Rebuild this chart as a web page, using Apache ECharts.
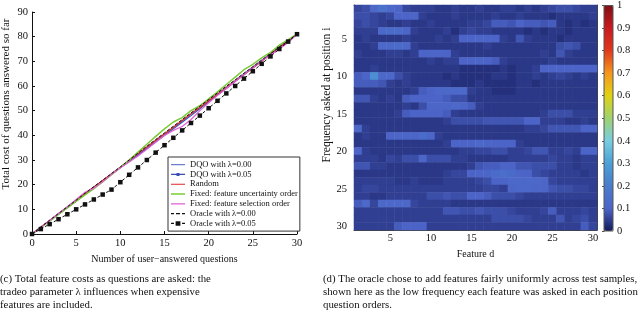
<!DOCTYPE html>
<html>
<head>
<meta charset="utf-8">
<script src="https://cdn.jsdelivr.net/npm/echarts@6/dist/echarts.min.js"></script>
<style>html,body{margin:0;padding:0;background:#fff}#c{width:640px;height:321px}</style>
</head>
<body>
<div id="c"></div>
<script>
// ---------- Left chart data ----------
const questionsX = [0,1,2,3,4,5,6,7,8,9,10,11,12,13,14,15,16,17,18,19,20,21,22,23,24,25,26,27,28,29,30];
const dqo000 = [0,2.7,5.4,8.1,10.9,13.6,16.3,19,21.6,24.3,27,29.6,32.3,35,37.7,40.4,43.1,45.8,48.6,51.4,54.1,56.8,59.5,62.2,65,67.7,70.4,73.1,75.8,78.4,81];
const dqo005 = [0,2.6,5.3,8,10.6,13.3,16,18.7,21.4,24.1,26.8,29.4,32,34.6,37.3,40,42.6,45.3,48,50.8,53.6,56.3,59,61.8,64.6,67.4,70.1,72.9,75.7,78.4,81];
const randomOrder = [0,2.8,5.5,8.2,10.9,13.6,16.3,19,21.7,24.4,27.1,29.9,32.6,35.3,38,40.6,43.3,46,48.7,51.3,54,56.6,59.3,62,64.6,67.3,70,72.8,75.6,78.3,81];
const fixedUncertainty = [0,2.6,5.2,7.9,10.6,13.3,15.9,18.4,21.1,24.1,27,30,33.2,36.4,39.6,42.6,45.4,47.2,50,52,54.8,57.6,60.6,63.6,66.6,68.8,71.4,73.6,76.6,78.8,81];
const fixedSelection = [0,2.7,5.5,8.3,11.1,14,16.9,18.6,21.2,24.2,26.9,29.2,31.6,34.3,37.2,39.9,42,43.6,46.4,50,53.2,56.2,59,61.8,64.6,67.5,70.2,72.6,75,77.6,81];
const oracle000 = [0,2.8,5.6,8.3,11,13.7,16.5,19.2,21.8,24.5,27.2,30,32.8,35.6,38.3,41,43.7,46.4,49.1,51.8,54.5,57.2,59.9,62.5,65.2,67.8,70.5,73.1,75.8,78.4,81];
const oracle005 = [0,2,4,6,8,10,12,14,16,18,21,24,27,30,33,36,39,42,45,48,51,54,57,60,63,66,69,72,75,78,81];
const seriesNames = ['DQO with λ=0.00','DQO with λ=0.05','Random','Fixed: feature uncertainty order','Fixed: feature selection order','Oracle with λ=0.00','Oracle with λ=0.05'];

// ---------- Right chart data ----------
const featureLabels = ['1','2','3','4','5','6','7','8','9','10','11','12','13','14','15','16','17','18','19','20','21','22','23','24','25','26','27','28','29','30'];
const positionLabels = ['1','2','3','4','5','6','7','8','9','10','11','12','13','14','15','16','17','18','19','20','21','22','23','24','25','26','27','28','29','30'];
const colorbarTicks = [0,0.1,0.2,0.3,0.4,0.5,0.6,0.7,0.8,0.9,1];
const heatRows = [
[0.06,0.07,0.12,0.16,0.12,0.10,0.06,0.05,0.05,0.05,0.04,0.04,0.05,0.04,0.04,0.05,0.04,0.04,0.05,0.05,0.04,0.05,0.04,0.05,0.06,0.07,0.07,0.06,0.05,0.05],
[0.07,0.07,0.06,0.05,0.06,0.10,0.10,0.11,0.05,0.04,0.04,0.04,0.05,0.04,0.04,0.04,0.04,0.05,0.04,0.04,0.05,0.04,0.04,0.04,0.03,0.04,0.04,0.04,0.04,0.05],
[0.06,0.07,0.06,0.05,0.04,0.04,0.05,0.04,0.04,0.05,0.04,0.04,0.04,0.04,0.05,0.05,0.06,0.09,0.09,0.08,0.10,0.09,0.09,0.08,0.09,0.04,0.03,0.04,0.03,0.04],
[0.05,0.05,0.05,0.12,0.13,0.13,0.11,0.05,0.04,0.04,0.04,0.05,0.03,0.05,0.06,0.05,0.05,0.04,0.04,0.04,0.04,0.03,0.04,0.03,0.04,0.04,0.03,0.04,0.04,0.04],
[0.04,0.05,0.04,0.04,0.04,0.04,0.05,0.04,0.04,0.04,0.05,0.04,0.05,0.10,0.10,0.11,0.10,0.10,0.05,0.04,0.08,0.05,0.04,0.04,0.04,0.03,0.04,0.04,0.04,0.04],
[0.04,0.04,0.05,0.12,0.12,0.13,0.12,0.05,0.04,0.04,0.04,0.04,0.04,0.04,0.04,0.04,0.05,0.04,0.04,0.04,0.04,0.04,0.04,0.04,0.04,0.07,0.08,0.07,0.04,0.04],
[0.05,0.04,0.04,0.04,0.05,0.05,0.04,0.05,0.10,0.11,0.11,0.10,0.05,0.04,0.04,0.04,0.04,0.04,0.04,0.04,0.04,0.04,0.04,0.05,0.04,0.08,0.05,0.04,0.04,0.04],
[0.04,0.04,0.04,0.04,0.04,0.04,0.04,0.04,0.04,0.05,0.04,0.05,0.05,0.10,0.10,0.11,0.10,0.09,0.05,0.04,0.04,0.04,0.04,0.04,0.05,0.04,0.04,0.04,0.04,0.04],
[0.04,0.04,0.05,0.04,0.04,0.04,0.04,0.04,0.04,0.04,0.04,0.04,0.04,0.03,0.03,0.03,0.03,0.03,0.04,0.03,0.04,0.04,0.05,0.10,0.10,0.10,0.10,0.10,0.10,0.10],
[0.09,0.10,0.25,0.12,0.12,0.07,0.05,0.04,0.04,0.04,0.04,0.03,0.04,0.03,0.03,0.03,0.03,0.04,0.04,0.03,0.04,0.04,0.05,0.04,0.05,0.06,0.05,0.04,0.05,0.04],
[0.09,0.09,0.09,0.08,0.05,0.04,0.05,0.04,0.04,0.04,0.04,0.04,0.03,0.03,0.03,0.04,0.03,0.03,0.03,0.03,0.04,0.04,0.03,0.04,0.04,0.04,0.04,0.04,0.04,0.04],
[0.04,0.04,0.04,0.04,0.04,0.04,0.04,0.05,0.09,0.10,0.12,0.12,0.12,0.12,0.05,0.04,0.04,0.03,0.03,0.03,0.04,0.04,0.04,0.04,0.04,0.04,0.04,0.04,0.04,0.04],
[0.08,0.08,0.05,0.04,0.05,0.04,0.09,0.10,0.10,0.10,0.10,0.09,0.07,0.07,0.04,0.04,0.04,0.04,0.04,0.04,0.04,0.04,0.04,0.04,0.04,0.04,0.04,0.04,0.04,0.04],
[0.04,0.04,0.04,0.04,0.04,0.04,0.05,0.04,0.07,0.11,0.11,0.11,0.12,0.11,0.09,0.05,0.04,0.04,0.04,0.04,0.04,0.04,0.04,0.04,0.04,0.04,0.04,0.04,0.04,0.04],
[0.04,0.04,0.04,0.04,0.04,0.05,0.09,0.10,0.10,0.10,0.10,0.09,0.05,0.04,0.04,0.04,0.04,0.04,0.04,0.04,0.04,0.04,0.04,0.05,0.07,0.07,0.07,0.05,0.05,0.05],
[0.04,0.04,0.04,0.04,0.04,0.04,0.04,0.04,0.04,0.04,0.04,0.05,0.07,0.07,0.07,0.07,0.08,0.08,0.08,0.08,0.08,0.10,0.10,0.05,0.05,0.05,0.04,0.04,0.05,0.04],
[0.12,0.05,0.04,0.04,0.04,0.04,0.04,0.04,0.04,0.04,0.04,0.04,0.04,0.04,0.04,0.04,0.04,0.04,0.04,0.04,0.04,0.05,0.05,0.06,0.08,0.08,0.08,0.08,0.10,0.10],
[0.04,0.05,0.04,0.04,0.10,0.11,0.11,0.11,0.13,0.11,0.05,0.04,0.04,0.04,0.04,0.04,0.04,0.04,0.04,0.04,0.04,0.04,0.04,0.04,0.04,0.04,0.04,0.04,0.04,0.04],
[0.04,0.04,0.04,0.04,0.04,0.04,0.04,0.04,0.04,0.04,0.04,0.05,0.10,0.10,0.10,0.12,0.11,0.10,0.10,0.10,0.05,0.04,0.04,0.04,0.04,0.04,0.04,0.04,0.04,0.04],
[0.10,0.05,0.04,0.04,0.04,0.04,0.04,0.04,0.04,0.04,0.04,0.04,0.04,0.05,0.05,0.06,0.06,0.07,0.07,0.05,0.05,0.06,0.08,0.08,0.05,0.05,0.06,0.05,0.10,0.10],
[0.05,0.05,0.05,0.04,0.06,0.05,0.07,0.07,0.11,0.07,0.07,0.07,0.05,0.05,0.04,0.04,0.04,0.04,0.04,0.05,0.05,0.05,0.05,0.05,0.06,0.05,0.05,0.04,0.05,0.05],
[0.08,0.08,0.05,0.05,0.04,0.04,0.04,0.04,0.04,0.04,0.04,0.04,0.04,0.04,0.05,0.08,0.09,0.09,0.10,0.10,0.08,0.08,0.07,0.07,0.07,0.05,0.05,0.04,0.05,0.05],
[0.04,0.04,0.04,0.04,0.04,0.04,0.04,0.04,0.04,0.04,0.04,0.05,0.06,0.06,0.10,0.11,0.11,0.13,0.14,0.13,0.11,0.10,0.07,0.06,0.05,0.05,0.05,0.05,0.04,0.05],
[0.05,0.05,0.05,0.05,0.05,0.04,0.04,0.05,0.04,0.04,0.04,0.05,0.05,0.05,0.05,0.06,0.07,0.10,0.10,0.12,0.12,0.12,0.12,0.11,0.06,0.05,0.05,0.05,0.05,0.05],
[0.05,0.06,0.06,0.05,0.05,0.05,0.05,0.05,0.05,0.05,0.05,0.05,0.05,0.05,0.05,0.05,0.06,0.06,0.05,0.11,0.12,0.12,0.11,0.11,0.08,0.07,0.07,0.06,0.06,0.05],
[0.05,0.05,0.04,0.04,0.05,0.05,0.05,0.05,0.05,0.07,0.07,0.08,0.07,0.07,0.10,0.10,0.09,0.07,0.07,0.07,0.06,0.05,0.05,0.05,0.05,0.05,0.05,0.05,0.05,0.05],
[0.09,0.12,0.06,0.12,0.12,0.12,0.12,0.06,0.05,0.05,0.05,0.05,0.04,0.04,0.04,0.04,0.04,0.04,0.04,0.04,0.04,0.04,0.04,0.04,0.04,0.04,0.04,0.04,0.04,0.04],
[0.05,0.05,0.05,0.05,0.05,0.05,0.05,0.05,0.05,0.05,0.05,0.08,0.08,0.07,0.07,0.08,0.07,0.07,0.07,0.06,0.05,0.05,0.05,0.06,0.09,0.05,0.05,0.05,0.06,0.05],
[0.05,0.05,0.05,0.05,0.05,0.05,0.05,0.05,0.05,0.05,0.05,0.05,0.05,0.05,0.05,0.05,0.05,0.07,0.07,0.07,0.07,0.06,0.05,0.05,0.05,0.08,0.05,0.06,0.07,0.05],
[0.05,0.05,0.05,0.05,0.05,0.09,0.10,0.10,0.10,0.05,0.05,0.05,0.05,0.05,0.05,0.05,0.05,0.05,0.05,0.05,0.05,0.05,0.05,0.05,0.05,0.05,0.05,0.05,0.09,0.06]
];
const jetColors = ['#141a5c','#4c64c8','#4a7ccc','#4ba0d7','#78cde1','#a0d26e','#e1d214','#f5961e','#e1371e','#c8191e','#7d0f14'];

// ---------- Build ----------
const FONT = '"Liberation Serif", "Times New Roman", serif';
const pair = arr => questionsX.map((x, i) => [x, arr[i]]);
const heatData = [];
heatRows.forEach((row, r) => row.forEach((v, c) => heatData.push([c, r, v])));
const every5 = (i) => (i + 1) % 5 === 0;

// legend glyphs (line swatches) drawn in a 14x6 box
const BOX = 'M0,0Z M14,6Z ';
const ICON_LINE = 'path://' + BOX + 'M0,2.4H14V3.6H0Z';
const ICON_THICK = 'path://' + BOX + 'M0,2.2H14V3.8H0Z';
const ICON_LINE_SQ = 'path://' + BOX + 'M0,2.4H14V3.6H0Z M5.5,1.5H8.5V4.5H5.5Z';
const ICON_DASH = 'path://' + BOX + 'M0,2.4H3V3.6H0Z M5,2.4H9V3.6H5Z M11,2.4H14V3.6H11Z';
const ICON_DASH_SQ = 'path://' + BOX + 'M0,2.4H3V3.6H0Z M4.6,0.8H9.4V5.2H4.6Z M11,2.4H14V3.6H11Z';
const legendIcons = [ICON_LINE, ICON_LINE_SQ, ICON_LINE, ICON_THICK, ICON_LINE, ICON_DASH, ICON_DASH_SQ];

const lineBase = (name, data, color, extra) => Object.assign({
  name, type: 'line', data: pair(data), xAxisIndex: 0, yAxisIndex: 0,
  symbol: 'none', smooth: false, silent: true,
  lineStyle: { color, width: 1.2 }, itemStyle: { color }
}, extra || {});

const chart = echarts.init(document.getElementById('c'), null, { renderer: 'canvas' });
chart.setOption({
  animation: false,
  textStyle: { fontFamily: FONT, color: '#111' },
  grid: [
    { left: 32, top: 12, width: 265, height: 222 },
    { left: 354, top: 5, width: 243, height: 225 },
    { left: 604, top: 5, width: 9, height: 226, show: true, borderColor: '#555', borderWidth: 1, z: 10 }
  ],
  legend: {
    left: 168, top: 157, orient: 'vertical',
    backgroundColor: '#fff', borderColor: '#333', borderWidth: 1,
    padding: [3, 2, 3, 3], itemGap: 0.5, itemWidth: 14, itemHeight: 6,
    symbolKeepAspect: false,
    textStyle: { fontFamily: FONT, fontSize: 8.5, lineHeight: 9.3, color: '#111' },
    data: seriesNames.map((n, i) => ({ name: n, icon: legendIcons[i], itemStyle: { borderWidth: 0 } }))
  },
  xAxis: [
    { gridIndex: 0, type: 'value', min: 0, max: 30, interval: 5,
      name: 'Number of user\u2212answered questions', nameLocation: 'middle', nameGap: 20,
      nameTextStyle: { fontFamily: FONT, fontSize: 10, color: '#111' },
      axisLine: { lineStyle: { color: '#111' } }, axisTick: { inside: true, length: 3, lineStyle: { color: '#111' } },
      axisLabel: { fontFamily: FONT, fontSize: 10.5, color: '#111', margin: 4 }, splitLine: { show: false } },
    { gridIndex: 1, type: 'category', data: featureLabels, position: 'bottom',
      name: 'Feature d', nameLocation: 'middle', nameGap: 19,
      nameTextStyle: { fontFamily: FONT, fontSize: 10, color: '#111' },
      axisLine: { lineStyle: { color: '#444' } },
      axisTick: { inside: true, length: 2, alignWithLabel: true, interval: every5, lineStyle: { color: '#444' } },
      axisLabel: { interval: every5, fontFamily: FONT, fontSize: 10.5, color: '#111', margin: 3 }, splitLine: { show: false } },
    { gridIndex: 1, type: 'category', data: featureLabels, position: 'top',
      axisLine: { lineStyle: { color: '#444' } },
      axisTick: { inside: true, length: 2, alignWithLabel: true, interval: every5, lineStyle: { color: '#444' } },
      axisLabel: { show: false }, splitLine: { show: false } },
    { gridIndex: 2, type: 'value', min: 0, max: 1, show: false }
  ],
  yAxis: [
    { gridIndex: 0, type: 'value', min: 0, max: 90, interval: 10,
      axisLine: { show: true, lineStyle: { color: '#111' } }, axisTick: { show: true, inside: true, length: 3, lineStyle: { color: '#111' } },
      axisLabel: { fontFamily: FONT, fontSize: 10.5, color: '#111', margin: 4 }, splitLine: { show: false } },
    { gridIndex: 1, type: 'category', data: positionLabels, inverse: true, position: 'left',
      axisLine: { lineStyle: { color: '#444' } },
      axisTick: { inside: true, length: 2, alignWithLabel: true, interval: every5, lineStyle: { color: '#444' } },
      axisLabel: { interval: every5, fontFamily: FONT, fontSize: 10.5, color: '#111', margin: 7 }, splitLine: { show: false } },
    { gridIndex: 1, type: 'category', data: positionLabels, inverse: true, position: 'right',
      axisLine: { lineStyle: { color: '#444' } },
      axisTick: { inside: true, length: 2, alignWithLabel: true, interval: every5, lineStyle: { color: '#444' } },
      axisLabel: { show: false }, splitLine: { show: false } },
    { gridIndex: 2, type: 'value', min: 0, max: 1, interval: 0.1, position: 'right',
      axisLine: { show: true, lineStyle: { color: '#555' } },
      axisTick: { show: true, inside: true, length: 2, lineStyle: { color: '#555' } },
      axisLabel: { fontFamily: FONT, fontSize: 10.5, color: '#111', margin: 4,
        formatter: v => colorbarTicks.indexOf(Math.round(v * 10) / 10) >= 0 ? String(Math.round(v * 10) / 10) : '' },
      splitLine: { show: false } }
  ],
  visualMap: {
    type: 'continuous', min: 0, max: 1, seriesIndex: 7, calculable: false,
    left: 604, top: 5, itemWidth: 9, itemHeight: 226, padding: 0, text: null,
    textStyle: { fontSize: 0 },
    inRange: { color: jetColors }
  },
  series: [
    lineBase(seriesNames[0], dqo000, '#6b7fca', { lineStyle: { color: '#6b7fca', width: 1.3 } }),
    lineBase(seriesNames[1], dqo005, '#3a4db5', { symbol: 'rect', symbolSize: 4, showSymbol: false, lineStyle: { color: '#3a4db5', width: 1.1 } }),
    lineBase(seriesNames[2], randomOrder, '#e02828', { lineStyle: { color: '#e02828', width: 1.2 } }),
    lineBase(seriesNames[3], fixedUncertainty, '#7ccb36', { lineStyle: { color: '#7ccb36', width: 1.5 } }),
    lineBase(seriesNames[4], fixedSelection, '#e25fd6', { lineStyle: { color: '#e25fd6', width: 1.2 } }),
    lineBase(seriesNames[5], oracle000, '#111', { lineStyle: { color: '#111', width: 1, type: [3, 2] } }),
    lineBase(seriesNames[6], oracle005, '#111', { symbol: 'rect', symbolSize: 4.5, showSymbol: true, lineStyle: { color: '#111', width: 1, type: [3, 2] } }),
    { name: 'frequency', type: 'heatmap', xAxisIndex: 1, yAxisIndex: 1, data: heatData, silent: true, progressive: 0 }
  ],
  graphic: [
    { type: 'text', x: 6, y: 104, rotation: Math.PI / 2, silent: true,
      style: { text: 'Total cost of questions answered so far', font: '11px ' + FONT, fill: '#111', textAlign: 'center', textVerticalAlign: 'middle' } },
    { type: 'text', x: 327, y: 95, rotation: Math.PI / 2, silent: true,
      style: { text: 'Frequency asked at position i', font: '11.5px ' + FONT, fill: '#111', textAlign: 'center', textVerticalAlign: 'middle' } },
    { type: 'text', left: 0, top: 273, silent: true,
      style: { text: '(c) Total feature costs as questions are asked: the\ntradeo parameter λ influences when expensive\nfeatures are included.', font: '10.8px ' + FONT, lineHeight: 13, fill: '#111' } },
    { type: 'text', left: 323, top: 273, silent: true,
      style: { text: '(d) The oracle chose to add features fairly uniformly across test samples,\nshown here as the low frequency each feature was asked in each position\nquestion orders.', font: '10.8px ' + FONT, lineHeight: 13, fill: '#111' } }
  ]
});
</script>
</body>
</html>
